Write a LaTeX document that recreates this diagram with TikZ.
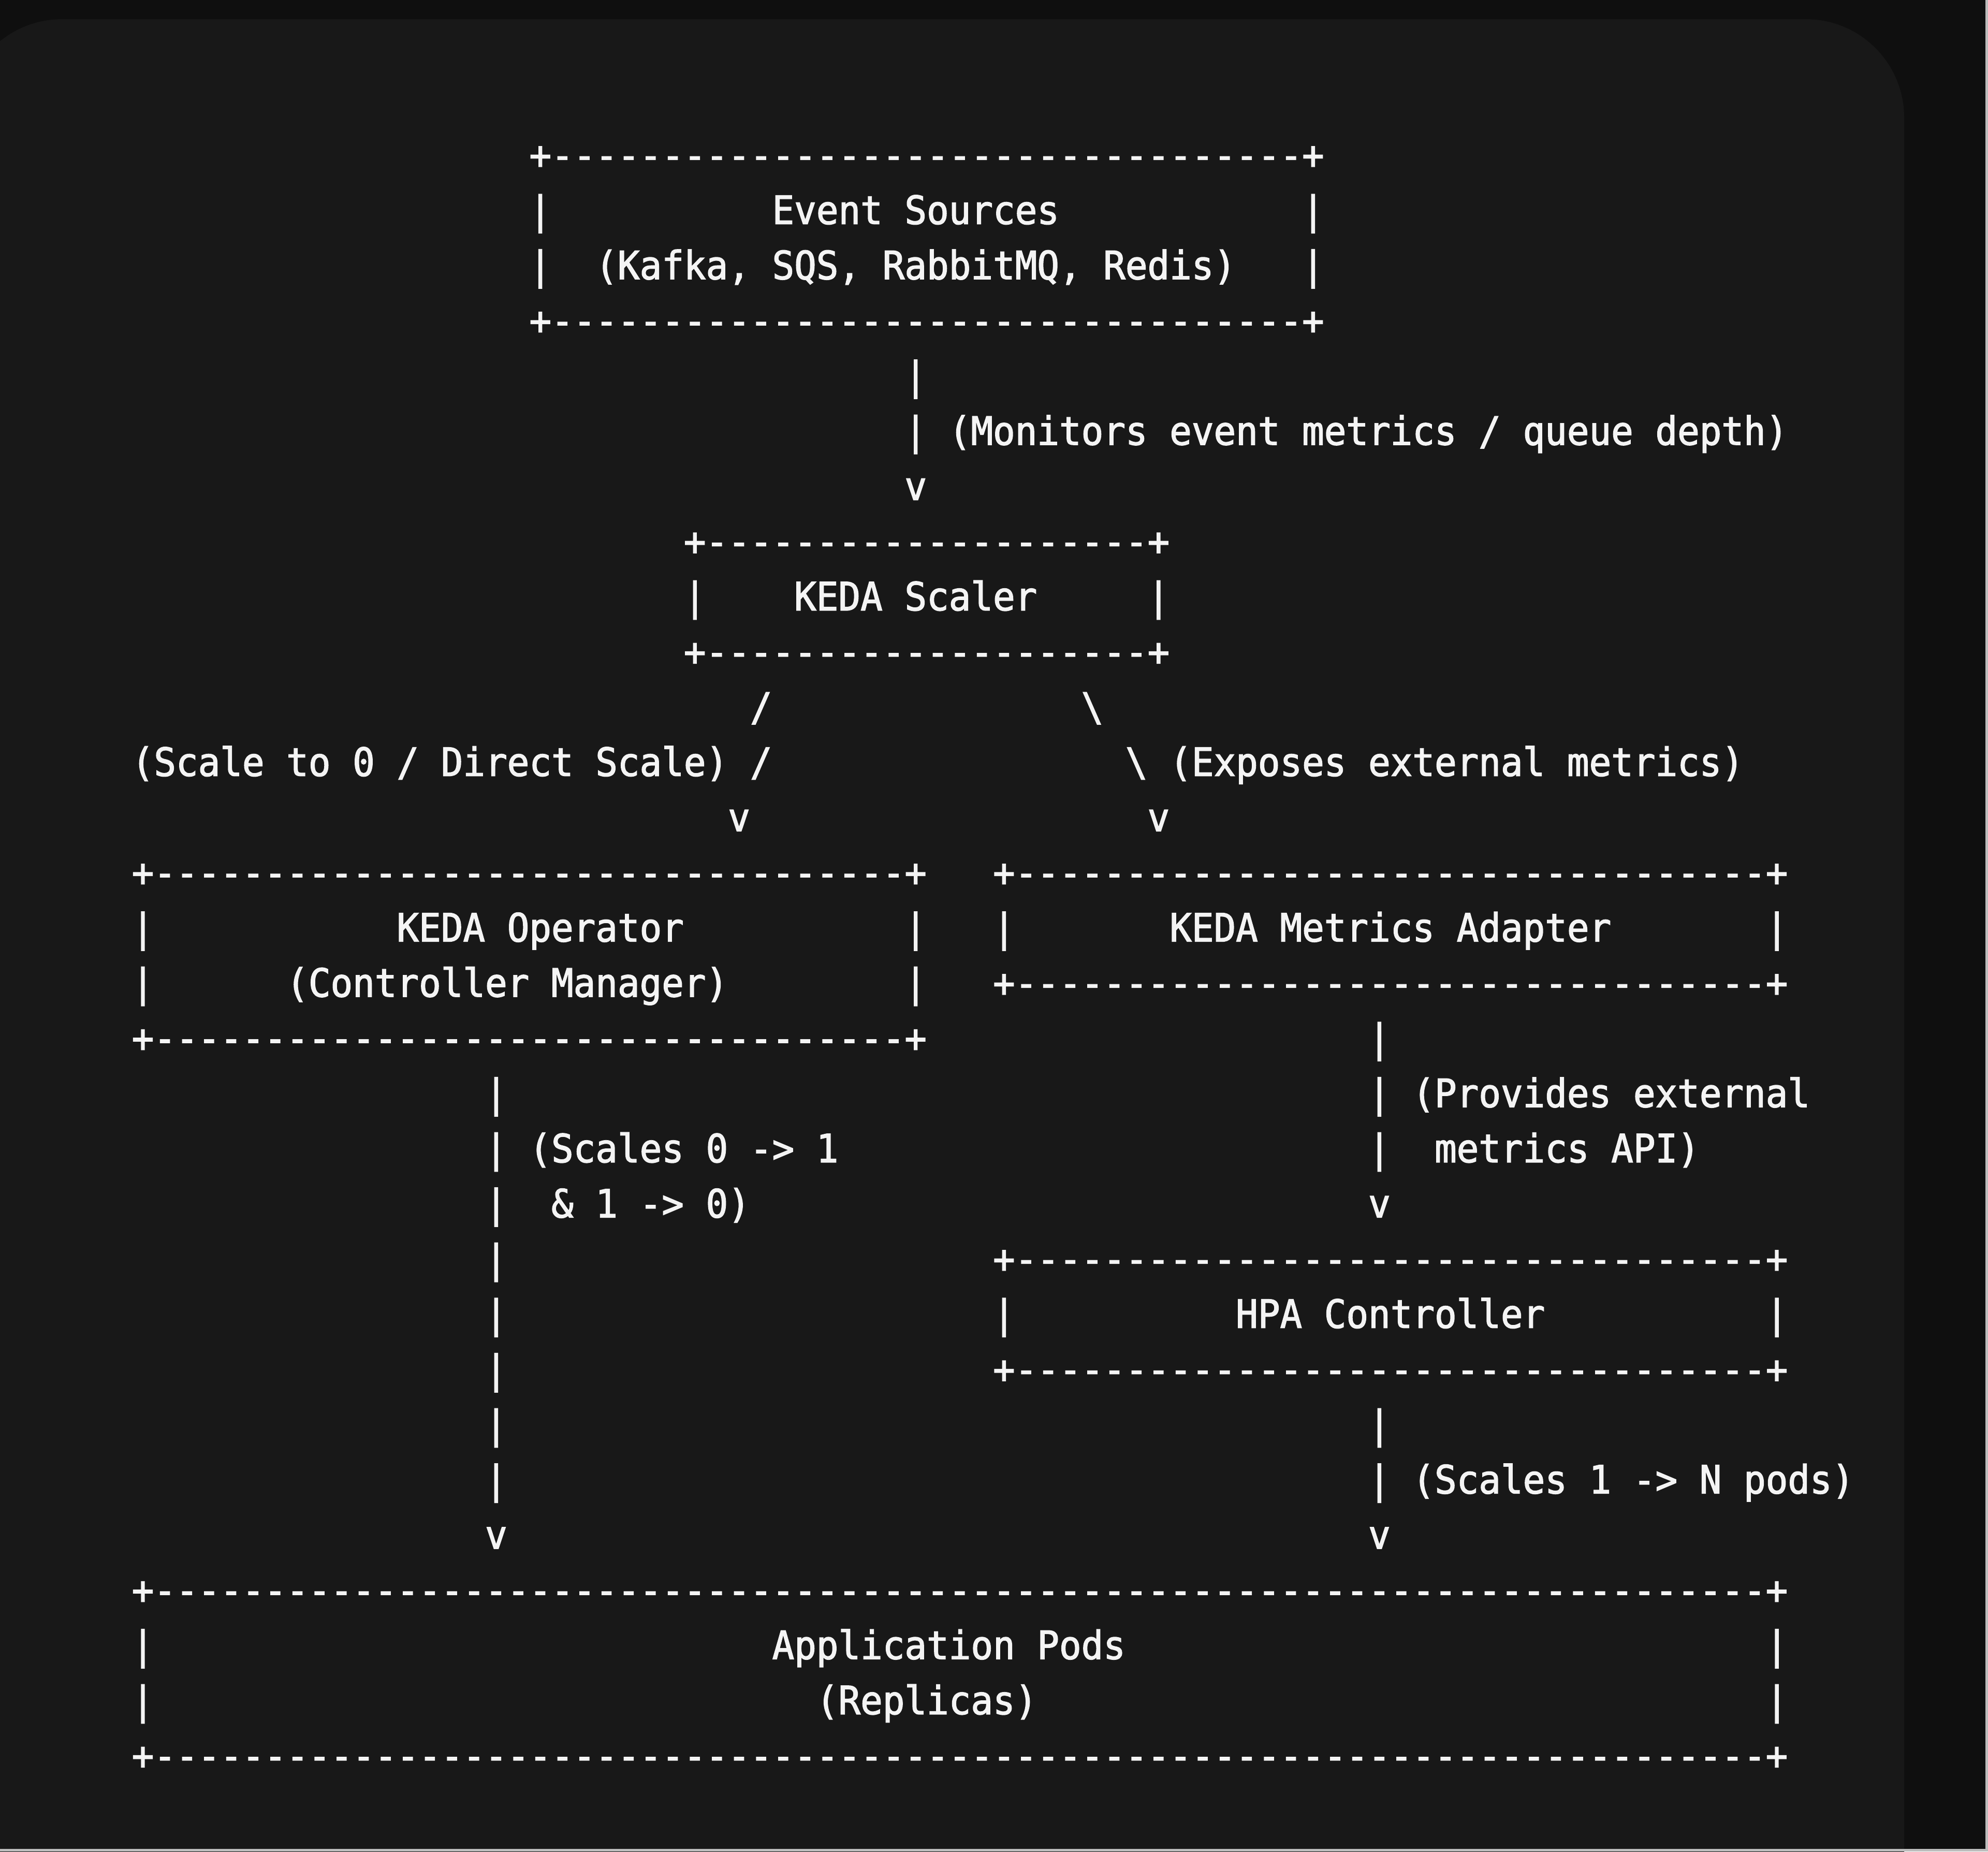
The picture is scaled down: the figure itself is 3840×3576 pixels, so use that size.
\documentclass[tikz,border=0pt]{standalone}
\usepackage{fontspec}
\setmonofont{DejaVu Sans Mono}[FakeStretch=0.94,FakeBold=2]
\ExplSyntaxOn
\NewDocumentCommand\dashes{m}{\prg_replicate:nn{#1}{-}}
\ExplSyntaxOff
\definecolor{outerbg}{HTML}{0F0F0F}
\definecolor{panelbg}{HTML}{181818}
\definecolor{ink}{HTML}{F4F4F4}
\definecolor{edgeline}{HTML}{BDBDBD}
\newcommand\tx[4]{\node[ascii] (#1) at ({254.7+42.65*#2},{326+106.6*#3}) {#4};}
\begin{document}
\begin{tikzpicture}[x=0.1pt,y=-0.1pt,
  ascii/.style={anchor=base west,inner sep=0pt,outer sep=0pt,text=ink,
    font=\ttfamily\fontsize{7.537pt}{9pt}\selectfont\frenchspacing}]
\useasboundingbox (0,0) rectangle (3840,3576);
\clip (0,0) rectangle (3840,3576);
\fill[outerbg] (0,0) rectangle (3840,3576);
\fill[panelbg, rounded corners=19pt] (-70,37) rectangle (3678,3900);
\fill[edgeline] (3835,0) rectangle (3840,3576);
\fill[edgeline] (0,3571) rectangle (3840,3576);
% Event Sources
\tx{esT}{18}{0}{+\dashes{34}+}
\tx{esL1}{18}{1}{|}\tx{esTx1}{29}{1}{Event Sources}\tx{esR1}{53}{1}{|}
\tx{esL2}{18}{2}{|}\tx{esTx2}{21}{2}{(Kafka, SQS, RabbitMQ, Redis)}\tx{esR2}{53}{2}{|}
\tx{esB}{18}{3}{+\dashes{34}+}
% arrow 1
\tx{a1}{35}{4}{|}
\tx{a2}{35}{5}{| (Monitors event metrics / queue depth)}
\tx{a3}{35}{6}{v}
% KEDA Scaler
\tx{ksT}{25}{7}{+\dashes{20}+}
\tx{ksL}{25}{8}{|}\tx{ksTx}{30}{8}{KEDA Scaler}\tx{ksR}{46}{8}{|}
\tx{ksB}{25}{9}{+\dashes{20}+}
% branches
\tx{l1}{28}{10}{/}\tx{r1}{43}{10}{\textbackslash}
\tx{l2}{0}{11}{(Scale to 0 / Direct Scale) /}\tx{r2}{45}{11}{\textbackslash{} (Exposes external metrics)}
\tx{l3}{27}{12}{v}\tx{r3}{46}{12}{v}
% KEDA Operator & Metrics Adapter
\tx{koT}{0}{13}{+\dashes{34}+}\tx{maT}{39}{13}{+\dashes{34}+}
\tx{koL1}{0}{14}{|}\tx{koTx1}{12}{14}{KEDA Operator}\tx{koR1}{35}{14}{|}
\tx{maL}{39}{14}{|}\tx{maTx}{47}{14}{KEDA Metrics Adapter}\tx{maR}{74}{14}{|}
\tx{koL2}{0}{15}{|}\tx{koTx2}{7}{15}{(Controller Manager)}\tx{koR2}{35}{15}{|}
\tx{maB}{39}{15}{+\dashes{34}+}
\tx{koB}{0}{16}{+\dashes{34}+}\tx{m1}{56}{16}{|}
\tx{o1}{16}{17}{|}\tx{m2}{56}{17}{| (Provides external}
\tx{o2}{16}{18}{| (Scales 0 -> 1}\tx{m3}{56}{18}{|}\tx{m3t}{59}{18}{metrics API)}
\tx{o3}{16}{19}{|}\tx{o3t}{19}{19}{\& 1 -> 0)}\tx{m4}{56}{19}{v}
% HPA Controller
\tx{o4}{16}{20}{|}\tx{hpT}{39}{20}{+\dashes{34}+}
\tx{o5}{16}{21}{|}\tx{hpL}{39}{21}{|}\tx{hpTx}{50}{21}{HPA Controller}\tx{hpR}{74}{21}{|}
\tx{o6}{16}{22}{|}\tx{hpB}{39}{22}{+\dashes{34}+}
\tx{o7}{16}{23}{|}\tx{h1}{56}{23}{|}
\tx{o8}{16}{24}{|}\tx{h2}{56}{24}{| (Scales 1 -> N pods)}
\tx{o9}{16}{25}{v}\tx{h3}{56}{25}{v}
% Application Pods
\tx{apT}{0}{26}{+\dashes{73}+}
\tx{apL1}{0}{27}{|}\tx{apTx1}{29}{27}{Application Pods}\tx{apR1}{74}{27}{|}
\tx{apL2}{0}{28}{|}\tx{apTx2}{31}{28}{(Replicas)}\tx{apR2}{74}{28}{|}
\tx{apB}{0}{29}{+\dashes{73}+}
\end{tikzpicture}
\end{document}
